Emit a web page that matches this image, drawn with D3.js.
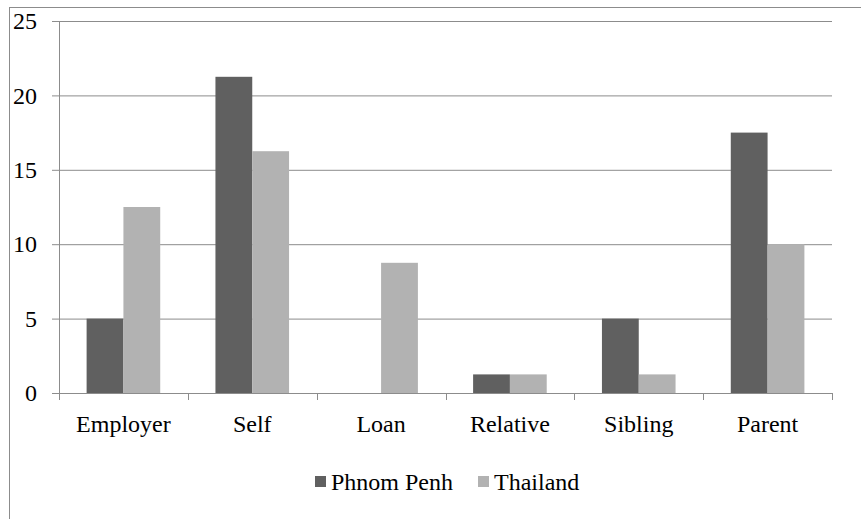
<!DOCTYPE html>
<html>
<head>
<meta charset="utf-8">
<script src="https://cdn.jsdelivr.net/npm/d3@7"></script>
<style>
  body { margin: 0; background: #fff; }
</style>
</head>
<body>
<div id="chart"></div>
<script>
// data
let categories = ["Employer", "Self", "Loan", "Relative", "Sibling", "Parent"];
let seriesNames = ["Phnom Penh", "Thailand"];
let phnomPenh = [5, 21.25, 0, 1.25, 5, 17.5];
let thailand = [12.5, 16.25, 8.75, 1.25, 1.25, 10];
let yTicks = [0, 5, 10, 15, 20, 25];

let font = "'Liberation Serif', 'Times New Roman', serif";
let colors = ["#606060", "#b2b2b2"];
let fullWidth = 861, fullHeight = 519;
let margin = { top: 21, right: 29, bottom: 126, left: 59 };
let width = fullWidth - margin.left - margin.right;
let height = fullHeight - margin.top - margin.bottom;

let svg = d3.select("#chart")
    .append("svg")
    .attr("width", fullWidth)
    .attr("height", fullHeight);

// outer frame (clipped at right and bottom)
svg.append("rect")
    .attr("x", 9.5)
    .attr("y", 7.5)
    .attr("width", fullWidth + 10)
    .attr("height", fullHeight + 10)
    .attr("fill", "none")
    .attr("stroke", "#8c8c8c");

let chartGroup = svg.append("g")
    .attr("transform", `translate(${margin.left},${margin.top})`);

let x = d3.scaleBand()
    .domain(categories)
    .range([0, width]);

let x1 = d3.scaleBand()
    .domain(seriesNames)
    .range([0, x.bandwidth()])
    .paddingInner(0)
    .paddingOuter(0.75);

let y = d3.scaleLinear()
    .domain([0, 25])
    .range([height, 0]);

// grid + y axis
let yAxis = chartGroup.append("g")
    .call(d3.axisLeft(y)
        .tickValues(yTicks)
        .tickSize(7)
        .tickPadding(15)
        .tickFormat(d3.format("d")));
yAxis.select(".domain").remove();
yAxis.selectAll("line").attr("stroke", "#8c8c8c");
yAxis.selectAll("text")
    .style("font-family", font)
    .style("font-size", "24px")
    .style("fill", "#000");

chartGroup.append("g")
    .attr("class", "grid")
    .call(d3.axisLeft(y)
        .tickValues(yTicks.filter(d => d > 0))
        .tickSize(-width)
        .tickFormat(""))
    .call(g => g.select(".domain").remove())
    .selectAll("line")
    .attr("stroke", "#8c8c8c");

chartGroup.append("line")
    .attr("x1", 0.5).attr("x2", 0.5)
    .attr("y1", 0).attr("y2", height + 7)
    .attr("stroke", "#8c8c8c");

let table = categories.map((c, i) => ({ cat: c, values: [phnomPenh[i], thailand[i]] }));

let groups = chartGroup.selectAll(".group")
    .data(table)
    .enter()
    .append("g")
    .attr("transform", d => `translate(${x(d.cat)},0)`);

groups.selectAll("rect")
    .data(d => d.values.map((v, j) => ({ name: seriesNames[j], value: v, j: j })))
    .enter()
    .append("rect")
    .attr("x", d => x1(d.name))
    .attr("y", d => y(d.value))
    .attr("width", x1.bandwidth())
    .attr("height", d => height - y(d.value))
    .attr("fill", d => colors[d.j]);

// x axis
let xAxis = chartGroup.append("g")
    .attr("transform", `translate(0,${height})`)
    .call(d3.axisBottom(x).tickSize(0).tickPadding(22));
xAxis.select(".domain").attr("stroke", "#8c8c8c");
xAxis.selectAll("text")
    .style("font-family", font)
    .style("font-size", "24px")
    .style("fill", "#000");

chartGroup.append("g")
    .selectAll("line")
    .data(categories.map(c => x(c) + x.bandwidth()))
    .enter()
    .append("line")
    .attr("x1", d => Math.round(d) + 0.5)
    .attr("x2", d => Math.round(d) + 0.5)
    .attr("y1", height)
    .attr("y2", height + 7)
    .attr("stroke", "#8c8c8c");

// legend
let legendItems = [
    { name: seriesNames[0], color: colors[0], x: 315 },
    { name: seriesNames[1], color: colors[1], x: 478 }
];
let legend = svg.append("g");
legend.selectAll("rect")
    .data(legendItems)
    .enter()
    .append("rect")
    .attr("x", d => d.x)
    .attr("y", 476)
    .attr("width", 11)
    .attr("height", 11)
    .attr("fill", d => d.color);
legend.selectAll("text")
    .data(legendItems)
    .enter()
    .append("text")
    .attr("x", d => d.x + 16)
    .attr("y", 490)
    .style("font-family", font)
    .style("font-size", "24px")
    .style("fill", "#000")
    .text(d => d.name);
</script>
</body>
</html>
